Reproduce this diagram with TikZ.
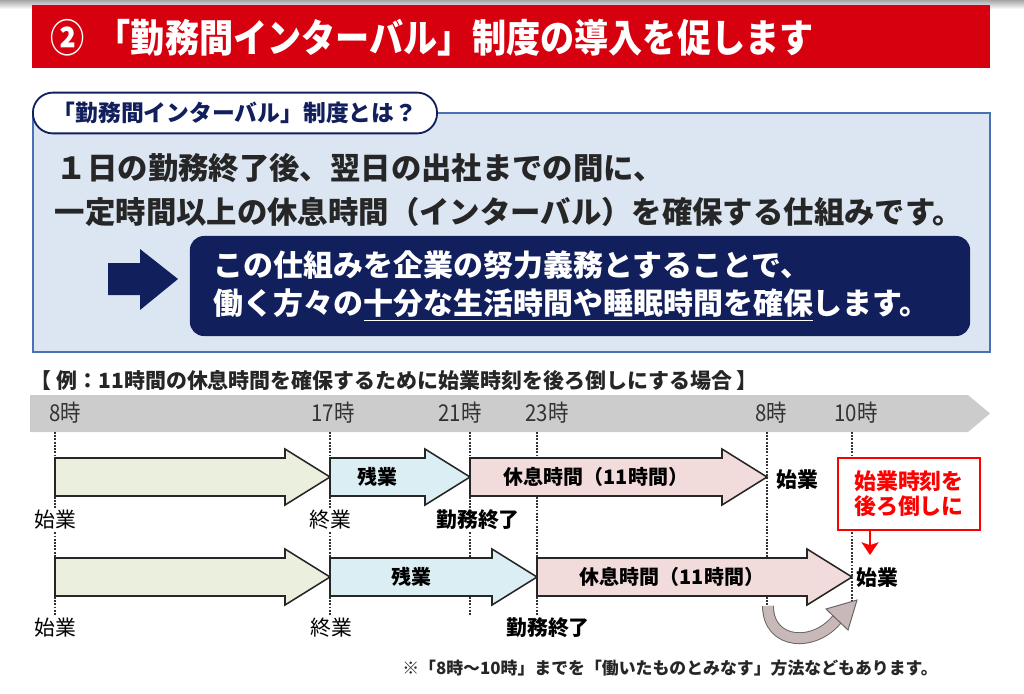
\documentclass[tikz,border=0pt]{standalone}
\usepackage{fontspec}
\setmainfont{Noto Sans CJK JP}
\newfontfamily\narrowfont{Noto Sans CJK JP}[FakeStretch=0.88]
\usetikzlibrary{arrows.meta}

\definecolor{bannerred}{RGB}{215,0,15}
\definecolor{boxfill}{RGB}{220,230,242}
\definecolor{boxline}{RGB}{74,112,182}
\definecolor{navy}{RGB}{17,31,92}
\definecolor{bandgray}{RGB}{204,204,204}
\definecolor{workfill}{RGB}{235,240,222}
\definecolor{overfill}{RGB}{218,238,243}
\definecolor{restfill}{RGB}{242,220,219}
\definecolor{curvefill}{RGB}{200,184,184}

% block arrow on the time line: start x, tip x, centre y, fill, name, text
\newcommand\workarrow[6]{%
  \draw[arrowline,fill=#4] (#1,#3-19) -- (#2-45,#3-19) -- (#2-45,#3-28) -- (#2,#3)
    -- (#2-45,#3+28) -- (#2-45,#3+19) -- (#1,#3+19) -- cycle;
  \node[armlabel] (#5) at ({(#1+#2-45)/2},#3) {#6};}

\begin{document}
\begin{tikzpicture}[x=0.025cm,y=-0.025cm,
    arrowline/.style={draw=black!85,line width=1.1pt,line join=miter},
    armlabel/.style={font=\bfseries\fontsize{14.2}{16}\selectfont,inner sep=1pt},
    rowlabel/.style={font=\fontsize{14.8}{16}\selectfont,fill=white,inner sep=1pt},
    endlabel/.style={font=\bfseries\fontsize{14.8}{16}\selectfont,fill=white,inner sep=1pt},
    hourlabel/.style={font=\narrowfont\fontsize{16.5}{18}\selectfont,text=black!80,inner sep=1pt},
    tick/.style={densely dotted,line width=1.3pt,black!80},
    tab/.style={draw=navy,line width=1.3pt,fill=white,rounded corners=0.5cm,
      minimum width=10.1cm,minimum height=1.02cm,text=navy,
      font=\bfseries\fontsize{16.2}{18}\selectfont},
    policybox/.style={fill=navy,rounded corners=0.35cm,text=white,align=left,
      minimum width=19.5cm,minimum height=2.5cm,text width=18.3cm,
      font=\bfseries\fontsize{21.3}{27}\selectfont},
    redbox/.style={draw=red,line width=1.6pt,fill=white,text=red,align=center,
      minimum width=3.55cm,minimum height=1.8cm,
      font=\bfseries\fontsize{15.6}{18}\selectfont}]
  \useasboundingbox (0,0) rectangle (1024,693);
  \shade[top color=black!35,bottom color=white] (0,0) rectangle (1024,9);

  % banner
  \fill[bannerred] (32,5) rectangle (990,68);
  \node[anchor=west,text=white,font=\narrowfont\bfseries\fontsize{27.6}{30}\selectfont]
    (title) at (46,38) {②\hspace{0.3em}「勤務間インターバル」制度の導入を促します};

  % explanation box
  \draw[fill=boxfill,draw=boxline,line width=1.6pt] (33,113) rectangle (990,352);
  \node[tab] (tab) at (235,113) {「勤務間インターバル」制度とは？};
  \node[anchor=west,font=\bfseries\fontsize{21.6}{24}\selectfont,text=black!85]
    (intro1) at (52,168) {１日の勤務終了後、翌日の出社までの間に、};
  \node[anchor=west,font=\bfseries\fontsize{21.6}{24}\selectfont,text=black!85]
    (intro2) at (50,212) {一定時間以上の休息時間（インターバル）を確保する仕組みです。};
  \fill[navy] (108,263) -- (140,263) -- (140,249) -- (178,279) -- (140,310)
    -- (140,295) -- (108,295) -- cycle;
  \node[policybox] (policy) at (580,286)
    {この仕組みを企業の努力義務とすることで、\\
     働く方々の\underline{十分な生活時間や睡眠時間を確保}します。};

  % example
  \node[anchor=west,font=\bfseries\fontsize{14.9}{16}\selectfont,text=black!85]
    (example) at (26,380) {【 例：11時間の休息時間を確保するために始業時刻を後ろ倒しにする場合 】};
  \fill[bandgray] (30,395) -- (968,395) -- (990,413.5) -- (968,432) -- (30,432) -- cycle;
  \foreach \x/\t in {65/8時,333/17時,460/21時,547/23時,771/8時,856/10時}
    \node[hourlabel] (h\x) at (\x,413) {\t};
  \foreach \x in {55,330,470,537,767,852}
    \draw[tick] (\x,432) -- (\x,615);

  % first day as it is
  \workarrow{55}{330}{477}{workfill}{work1}{}
  \workarrow{330}{470}{477}{overfill}{over1}{残業}
  \workarrow{470}{767}{477}{restfill}{rest1}{休息時間（11時間）}
  \node[rowlabel] (start1) at (55,520) {始業};
  \node[rowlabel] (end1) at (330,520) {終業};
  \node[endlabel] (done1) at (478,520) {勤務終了};
  \node[endlabel,fill=none,anchor=west] (next1) at (775,480) {始業};

  % later start
  \node[redbox] (shift) at (909,494) {始業時刻を\\後ろ倒しに};
  \coordinate (redtip) at (870,555);
  \draw[red,line width=2pt,-{Stealth[length=9pt,width=12pt,inset=2pt]}]
    (shift.south -| redtip) -- (redtip);

  % second day with the later start
  \workarrow{55}{330}{577}{workfill}{work2}{}
  \workarrow{330}{537}{577}{overfill}{over2}{残業}
  \workarrow{537}{852}{577}{restfill}{rest2}{休息時間（11時間）}
  \node[rowlabel] (start2) at (55,628) {始業};
  \node[rowlabel] (end2) at (331,628) {終業};
  \node[endlabel] (done2) at (548,628) {勤務終了};
  \node[endlabel,fill=none,anchor=west] (next2) at (855,578) {始業};

  % the hours moved back
  \coordinate (bend0) at (768,606);
  \coordinate (bend1) at (838,618);
  \draw[draw=black!60,line width=0.7pt,double=curvefill,double distance=7pt]
    (bend0) .. controls (768,645) and (815,648) .. (bend1);
  \filldraw[fill=curvefill,draw=black!60,line width=0.7pt]
    (857,600) -- (826,609) -- (848,630) -- cycle;

  \node[font=\bfseries\fontsize{12}{14}\selectfont,text=black!85] (note) at (670,668)
    {※「8時～10時」までを「働いたものとみなす」方法などもあります。};
\end{tikzpicture}
\end{document}
